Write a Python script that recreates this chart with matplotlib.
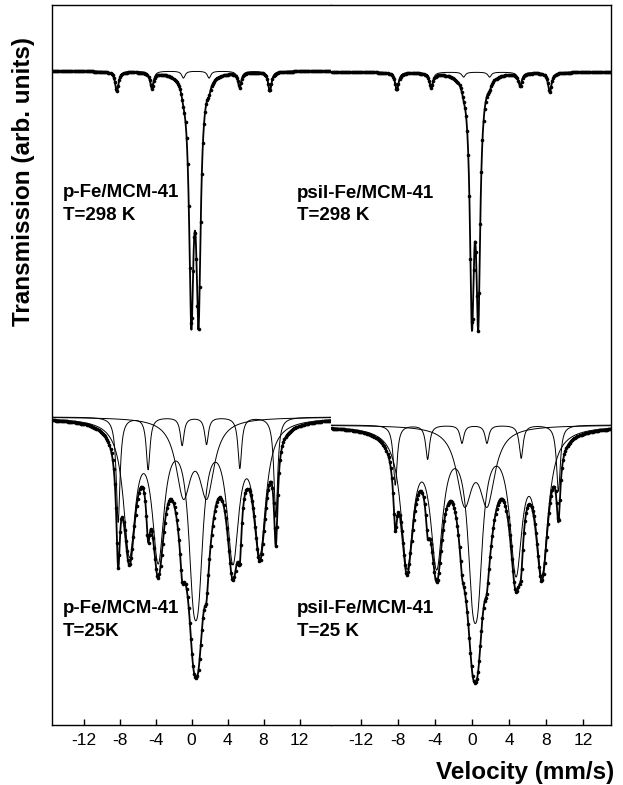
"""
Mossbauer spectra of p-Fe/MCM-41 and psil-Fe/MCM-41 recorded at 298 K and 25 K.
Each spectrum is drawn as channel points, the total fit (thick) and the fit
sub-spectra (thin), all built from the Lorentzian line parameters below.
"""
import numpy as np
import matplotlib
matplotlib.use("Agg")
from matplotlib import pyplot as plt

OUT_PATH = "out.png"
FIG_W, FIG_H = 623, 785

# velocity window of the two panels (mm/s) and the tick values
X_LIMITS = [(-15.5, 15.5), (-15.2, 15.0)]
X_TICKS = [-12, -8, -4, 0, 4, 8, 12]
N_CHANNELS = 256

SAMPLES = ["p-Fe/MCM-41", "psil-Fe/MCM-41"]
TEMPS_RT = ["T=298 K", "T=298 K"]
TEMPS_LT = ["T=25K", "T=25 K"]

# --- 298 K spectra -------------------------------------------------------
# positions in mm/s, widths (FWHM) in mm/s, depths in arb. units
RT_BASELINE = [6.54, 6.53]
RT_DOUBLET_POS = [[-0.02, 0.78], [0.0, 0.68]]
RT_DOUBLET_FWHM = [0.58, 0.52]
RT_DOUBLET_DEPTH = [2.31, 2.29]
RT_SEXTET_POS = [[-8.3, -4.4, -0.9, 1.95, 5.35, 8.7],
                 [-8.1, -4.4, -0.9, 1.9, 5.2, 8.4]]
RT_SEXTET_FWHM = [0.45, 0.45]
RT_SEXTET_DEPTH = [[0.20, 0.16, 0.07, 0.07, 0.15, 0.20],
                   [0.18, 0.15, 0.05, 0.05, 0.13, 0.20]]

# --- 25 K spectra --------------------------------------------------------
LT_BASELINE = [3.08, 3.00]
# narrow sextet
LT_SHARP_POS = [[-8.15, -4.82, -1.04, 1.67, 5.37, 9.37],
                [-8.27, -4.78, -1.08, 1.62, 5.31, 9.33]]
LT_SHARP_FWHM = [0.5, 0.5]
LT_SHARP_DEPTH = [[1.05, 0.52, 0.28, 0.27, 0.51, 1.00],
                  [0.60, 0.34, 0.18, 0.18, 0.33, 0.66]]
# broadened sextet (inner pair merges into one central dip)
LT_BROAD_POS = [[-6.9, -3.7, 0.18, 0.78, 4.6, 7.6],
                [-7.0, -3.8, 0.06, 0.66, 4.75, 7.55]]
LT_BROAD_FWHM = [[1.6, 1.6, 1.3, 1.3, 1.6, 1.6],
                 [1.6, 1.6, 1.3, 1.3, 1.6, 1.6]]
LT_BROAD_DEPTH = [[1.30, 1.32, 1.16, 1.16, 1.32, 1.27],
                  [1.34, 1.30, 1.13, 1.13, 1.35, 1.38]]
# broad doublet
LT_DOUBLET_POS = [[-0.9, 1.7], [-0.8, 1.65]]
LT_DOUBLET_FWHM = [2.0, 2.0]
LT_DOUBLET_DEPTH = [0.73, 0.72]


def absorption(v, positions, fwhm, depths):
    """
    Sum of Lorentzian absorption lines evaluated on the velocity grid v.
    """
    pos = np.asarray(positions, dtype=float)
    hw = np.broadcast_to(np.asarray(fwhm, dtype=float) / 2.0, pos.shape)
    dep = np.broadcast_to(np.asarray(depths, dtype=float), pos.shape)
    out = np.zeros_like(v)
    for p, h, d in zip(pos, hw, dep):
        out += d * h ** 2 / ((v - p) ** 2 + h ** 2)
    return out


def fig_xy(px, py):
    # pixel position -> figure fraction
    return px / FIG_W, 1 - py / FIG_H


def draw_panel(ax, i):
    lo, hi = X_LIMITS[i]
    v_fit = np.linspace(lo, hi, 1600)
    v_ch = np.linspace(lo + 0.1, hi - 0.1, N_CHANNELS)

    # room temperature: doublet + weak sextet
    def rt_parts(v):
        dbl = absorption(v, RT_DOUBLET_POS[i], RT_DOUBLET_FWHM[i], RT_DOUBLET_DEPTH[i])
        sxt = absorption(v, RT_SEXTET_POS[i], RT_SEXTET_FWHM[i], RT_SEXTET_DEPTH[i])
        return dbl, sxt

    dbl, sxt = rt_parts(v_fit)
    base = RT_BASELINE[i]
    ax.plot(v_fit, base - sxt, color="black", lw=0.7, zorder=2)
    ax.plot(v_fit, base - dbl - sxt, color="black", lw=1.3, zorder=3)
    d_ch, s_ch = rt_parts(v_ch)
    ax.plot(v_ch, base - d_ch - s_ch, "o", color="black", ms=2.6, mew=0, zorder=4)

    # 25 K: narrow sextet, broad sextet and broad doublet
    def lt_parts(v):
        sharp = absorption(v, LT_SHARP_POS[i], LT_SHARP_FWHM[i], LT_SHARP_DEPTH[i])
        broad = absorption(v, LT_BROAD_POS[i], LT_BROAD_FWHM[i], LT_BROAD_DEPTH[i])
        dbl = absorption(v, LT_DOUBLET_POS[i], LT_DOUBLET_FWHM[i], LT_DOUBLET_DEPTH[i])
        return sharp, broad, dbl

    sharp, broad, dbl = lt_parts(v_fit)
    base = LT_BASELINE[i]
    for comp in (sharp, broad, dbl):
        ax.plot(v_fit, base - comp, color="black", lw=0.7, zorder=2)
    ax.plot(v_fit, base - sharp - broad - dbl, color="black", lw=1.3, zorder=3)
    sh_ch, br_ch, db_ch = lt_parts(v_ch)
    ax.plot(v_ch, base - sh_ch - br_ch - db_ch, "o", color="black", ms=2.6, mew=0, zorder=4)

    ax.set_xlim(lo, hi)
    ax.set_ylim(0, 7.2)
    ax.set_xticks(X_TICKS)
    ax.set_xticklabels([str(t) for t in X_TICKS])
    ax.set_yticks([])
    ax.tick_params(axis="x", direction="in", length=4, width=1.0, pad=6,
                   labelsize=12.5)
    for spine in ax.spines.values():
        spine.set_linewidth(1.0)


plt.rcParams["font.family"] = ["Liberation Sans", "DejaVu Sans"]

fig = plt.figure(figsize=(FIG_W / 100, FIG_H / 100), dpi=100)
split = 331 / FIG_W
bottom, top = 1 - 725 / FIG_H, 1 - 5 / FIG_H
ax_l = fig.add_axes([52 / FIG_W, bottom, split - 52 / FIG_W, top - bottom])
ax_r = fig.add_axes([split, bottom, 611 / FIG_W - split, top - bottom])

draw_panel(ax_l, 0)
draw_panel(ax_r, 1)
ax_l.spines["right"].set_visible(False)
ax_r.spines["left"].set_visible(False)

# sample / temperature labels (left edge, baselines in pixels)
label_pos = [(62.7, 197, 220), (297, 198, 220)]
label_pos_lt = [(62.7, 613, 636), (297, 613, 636)]
for i in range(2):
    x, y1, y2 = label_pos[i]
    fig.text(*fig_xy(x, y1), SAMPLES[i], fontsize=13.5, fontweight="bold",
             ha="left", va="baseline")
    fig.text(*fig_xy(x, y2), TEMPS_RT[i], fontsize=13.5, fontweight="bold",
             ha="left", va="baseline")
    x, y1, y2 = label_pos_lt[i]
    fig.text(*fig_xy(x, y1), SAMPLES[i], fontsize=13.5, fontweight="bold",
             ha="left", va="baseline")
    fig.text(*fig_xy(x, y2), TEMPS_LT[i], fontsize=13.5, fontweight="bold",
             ha="left", va="baseline")

fig.text(*fig_xy(24, 182), "Transmission (arb. units)", rotation=90,
         fontsize=17.5, fontweight="bold", ha="center", va="center")
fig.text(*fig_xy(614, 773), "Velocity (mm/s)", fontsize=17.5,
         fontweight="bold", ha="right", va="center")

fig.savefig(OUT_PATH, dpi=100)
